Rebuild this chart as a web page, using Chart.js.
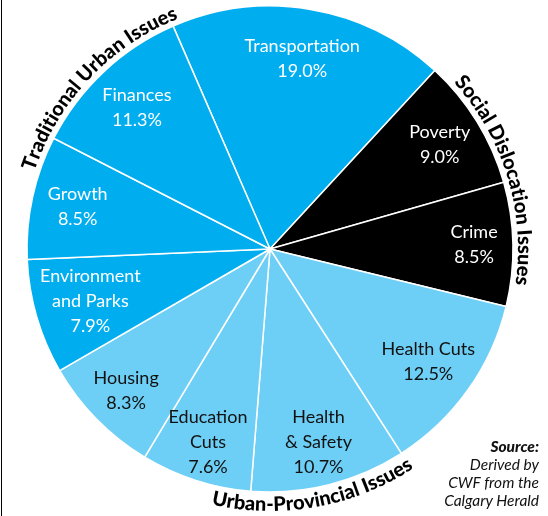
<!DOCTYPE html>
<html>
<head>
<meta charset="utf-8">
<script src="https://cdn.jsdelivr.net/npm/chart.js@4/dist/chart.umd.min.js"></script>
<style>
  html, body { margin: 0; padding: 0; background: #fff; }
  #wrap { position: relative; width: 548px; height: 516px; overflow: hidden; }
  #edge { position: absolute; left: 1px; top: 0; width: 1px; height: 516px; background: #000; }
  #source {
    position: absolute; right: 9px; top: 437px;
    font-family: Lato, sans-serif; font-style: italic; font-size: 15.5px;
    line-height: 18px; text-align: right; color: #111;
  }
  #source b { font-weight: 900; }
</style>
</head>
<body>
<div id="wrap">
  <canvas id="pie" width="548" height="516"></canvas>
  <div id="edge"></div>
  <div id="source"><b>Source:</b><br>Derived by<br>CWF from the<br>Calgary Herald</div>
</div>
<script>
// slices, clockwise from the Transportation slice
const categories = ['Transportation', 'Poverty', 'Crime', 'Health Cuts', 'Health & Safety',
  'Education Cuts', 'Housing', 'Environment and Parks', 'Growth', 'Finances'];
const shares = [19.0, 9.0, 8.5, 12.5, 10.7, 7.6, 8.3, 7.9, 8.5, 11.3];
const labelLines = [['Transportation'], ['Poverty'], ['Crime'], ['Health Cuts'], ['Health', '& Safety'],
  ['Education', 'Cuts'], ['Housing'], ['Environment', 'and Parks'], ['Growth'], ['Finances']];
const groupOf = [0, 1, 1, 2, 2, 2, 2, 0, 0, 0];
const groupNames = ['Traditional Urban Issues', 'Social Dislocation Issues', 'Urban-Provincial Issues'];

const groupColors = ['#00aeef', '#000000', '#6dcff6'];
const groupText = ['#ffffff', '#ffffff', '#111111'];
// how far out (fraction of radius) each slice label sits
const labelRadius = [0.795, 0.82, 0.84, 0.80, 0.82, 0.835, 0.83, 0.77, 0.81, 0.80];
// angle (deg, clockwise from top) where each curved group title is centred
const titleAngles = [313, 73, 170];

const FONT = 'Lato, sans-serif';

const sliceLabels = {
  id: 'sliceLabels',
  afterDatasetsDraw(chart) {
    const ctx = chart.ctx;
    const arcs = chart.getDatasetMeta(0).data;
    ctx.save();
    ctx.font = '18px ' + FONT;
    ctx.textAlign = 'center';
    ctx.textBaseline = 'middle';
    arcs.forEach((arc, i) => {
      const mid = (arc.startAngle + arc.endAngle) / 2;
      const r = arc.outerRadius * labelRadius[i];
      const x = arc.x + Math.cos(mid) * r;
      const y = arc.y + Math.sin(mid) * r;
      const lines = labelLines[i].concat([shares[i].toFixed(1) + '%']);
      const lh = 25;
      const top = y - (lines.length - 1) * lh / 2;
      ctx.fillStyle = groupText[groupOf[i]];
      lines.forEach((t, k) => ctx.fillText(t, x, top + k * lh));
    });
    ctx.restore();
  }
};

function arcText(ctx, text, cx, cy, r, centreDeg, bottom) {
  const total = ctx.measureText(text).width;
  const span = total / r;
  const c = centreDeg * Math.PI / 180;
  let a = bottom ? c + span / 2 : c - span / 2;
  for (const ch of text) {
    const w = ctx.measureText(ch).width;
    const m = bottom ? a - w / 2 / r : a + w / 2 / r;
    ctx.save();
    ctx.translate(cx + Math.sin(m) * r, cy - Math.cos(m) * r);
    ctx.rotate(bottom ? m - Math.PI : m);
    ctx.fillText(ch, 0, 0);
    ctx.restore();
    a = bottom ? a - w / r : a + w / r;
  }
}

const groupTitles = {
  id: 'groupTitles',
  afterDraw(chart) {
    const ctx = chart.ctx;
    const arc = chart.getDatasetMeta(0).data[0];
    ctx.save();
    ctx.font = '900 20px ' + FONT;
    ctx.fillStyle = '#000';
    ctx.textAlign = 'center';
    ctx.textBaseline = 'alphabetic';
    arcText(ctx, groupNames[0], arc.x, arc.y, arc.outerRadius + 5, titleAngles[0], false);
    arcText(ctx, groupNames[1], arc.x, arc.y, arc.outerRadius + 5, titleAngles[1], false);
    arcText(ctx, groupNames[2], arc.x, arc.y, arc.outerRadius + 19, titleAngles[2], true);
    ctx.restore();
  }
};

new Chart(document.getElementById('pie'), {
  type: 'pie',
  data: {
    labels: categories,
    datasets: [{
      data: shares,
      backgroundColor: groupOf.map(g => groupColors[g]),
      borderColor: '#ffffff',
      borderWidth: 1.5
    }]
  },
  options: {
    responsive: false,
    animation: false,
    rotation: -23.5,
    radius: 243,
    layout: { padding: { left: 27, right: 35, top: 6, bottom: 24 } },
    plugins: { legend: { display: false }, tooltip: { enabled: false } }
  },
  plugins: [sliceLabels, groupTitles]
});
</script>
</body>
</html>
